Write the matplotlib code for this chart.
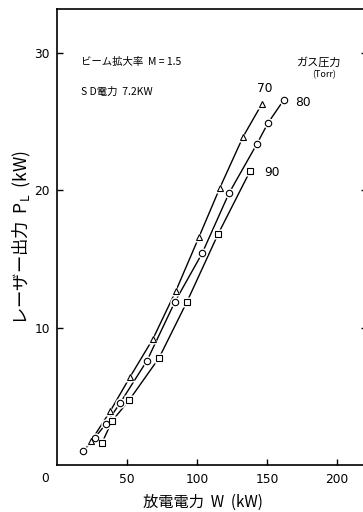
import matplotlib.pyplot as plt

plt.rcParams['font.family'] = ['Noto Sans CJK JP', 'DejaVu Sans']

# gas pressure 70 Torr (triangles)
w_70 = [24.3, 37.9, 52.1, 68.6, 85.0, 101.4, 116.4, 132.9, 146.4]
p_70 = [1.75, 3.9, 6.4, 9.2, 12.7, 16.6, 20.2, 23.9, 26.3]
# 80 Torr (circles)
w_80 = [18.6, 27.1, 35.0, 45.0, 64.3, 84.3, 103.6, 122.9, 142.9, 150.7, 162.1]
p_80 = [1.0, 2.0, 3.0, 4.5, 7.6, 11.9, 15.4, 19.8, 23.4, 24.9, 26.6]
# 90 Torr (squares)
w_90 = [32.1, 39.3, 51.4, 72.9, 92.9, 115.0, 137.9]
p_90 = [1.6, 3.2, 4.7, 7.8, 11.9, 16.8, 21.4]

series = [(w_70, p_70, '^', '70'), (w_80, p_80, 'o', '80'), (w_90, p_90, 's', '90')]

fig = plt.figure(figsize=(3.63, 5.12), dpi=100)
# axes runs a little past the right edge, like the cropped scan
ax = fig.add_axes([57/363, 47/512, 310/363, 456/512])

for w, p, m, lab in series:
    ax.plot(w, p, color='black', lw=1.0, zorder=2)
    ax.plot(w, p, ls='none', marker=m, ms=7.5, mfc='white', mec='none', zorder=3)
    ax.plot(w, p, ls='none', marker=m, ms=4.6, mfc='white', mec='black', mew=0.8, zorder=4)

ax.set_xlim(0, 221.4)
ax.set_ylim(0, 33.2)
ax.set_xticks([50, 100, 150, 200])
ax.set_yticks([10, 20, 30])
ax.tick_params(direction='in', length=4, width=1.0, labelsize=8.8, right=True)
ax.tick_params(axis='x', pad=6)
ax.tick_params(axis='y', pad=5)
for t in ax.get_xticklabels() + ax.get_yticklabels():
    t.set_fontfamily('DejaVu Sans')
for s in ax.spines.values():
    s.set_linewidth(1.2)

num = dict(fontsize=8.8, ha='center', va='center', family='DejaVu Sans')
fig.text(45/363, 1 - 478/512, '0', **num)

# series labels
fig.text(265/363, 1 - 88/512, '70', **num)
fig.text(303/363, 1 - 103/512, '80', **num)
fig.text(272/363, 1 - 172/512, '90', **num)

# notes
fig.text(81/363, 1 - 62/512, 'ビーム拡大率  M = 1.5', fontsize=7.5, ha='left', va='center')
fig.text(81/363, 1 - 92/512, 'S D電力  7.2KW', fontsize=7.5, ha='left', va='center')
fig.text(319/363, 1 - 62/512, 'ガス圧力', fontsize=8, ha='center', va='center')
fig.text(324/363, 1 - 75/512, '(Torr)', fontsize=6.5, ha='center', va='center')

# axis titles
fig.text(203/363, 1 - 502/512, '放電電力  W  (kW)', fontsize=11, ha='center', va='center')
fig.text(22/363, 1 - 238/512, 'レーザー出力  $\\mathregular{P_L}$  (kW)', fontsize=12.5,
         rotation=90, ha='center', va='center')

fig.savefig('out.png', dpi=100)
